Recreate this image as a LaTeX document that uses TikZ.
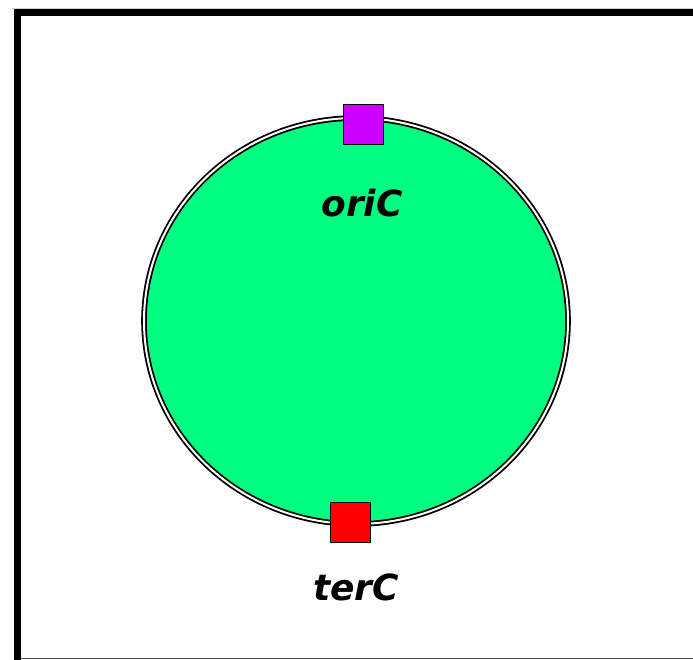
\documentclass[tikz,border=0pt]{standalone}
\usepackage{fontspec}
\setmainfont{DejaVu Sans}
\usetikzlibrary{shapes.geometric}

\definecolor{chromgreen}{RGB}{0,255,128}
\definecolor{orimag}{RGB}{204,0,255}

\tikzset{
  site/.style={draw=black, line width=0.9pt, minimum width=40pt, minimum height=40pt, inner sep=0pt},
  locus/.style={font=\fontsize{36}{40}\selectfont\bfseries\itshape, inner sep=0pt}
}

\begin{document}
\begin{tikzpicture}[x=1pt,y=-1pt]
\useasboundingbox (0,0) rectangle (693,659);
% frame
\draw [gray!35, line width=0.6pt] (12,8.5) -- (700,8.5);
\draw [black, line width=7pt] (17.5,700) -- (17.5,12.5) -- (700,12.5);
\draw [gray!60!black, line width=1pt] (21,658) -- (700,658);
% chromosome
\node [ellipse, fill=chromgreen, draw=black, line width=1.8pt, double=white, double distance=2pt,
  minimum width=424pt, minimum height=406pt, inner sep=0pt] (chr) at (356,321) {};
% origin and terminus
\node [site, fill=orimag] (ori) at (363.5,124) {};
\node [site, fill=red] (ter) at (350.5,522) {};
\node [locus, anchor=base] (orilab) at (362,216) {oriC};
\node [locus, anchor=base] (terlab) at (356,600) {terC};
\end{tikzpicture}
\end{document}
